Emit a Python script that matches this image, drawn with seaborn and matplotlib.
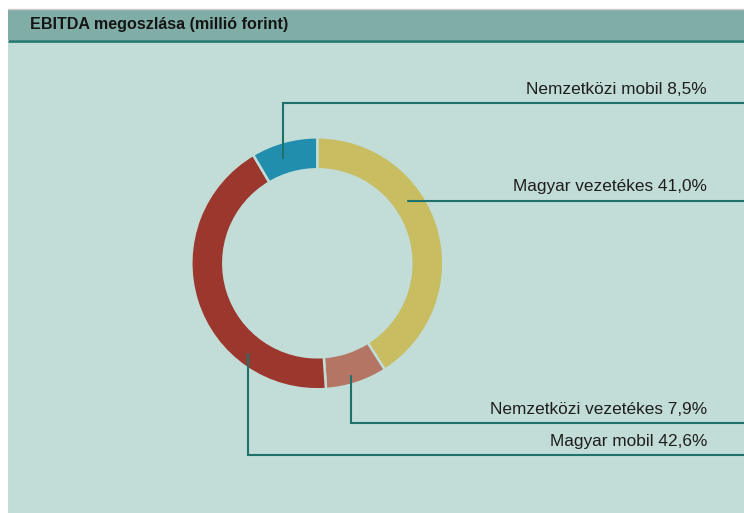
import matplotlib
matplotlib.use("Agg")
import matplotlib.pyplot as plt
import seaborn as sns
from matplotlib import font_manager
from matplotlib.patches import Rectangle

# ---- data ----
categories = ["Magyar vezetékes", "Nemzetközi vezetékes", "Magyar mobil", "Nemzetközi mobil"]
shares = [41.0, 7.9, 42.6, 8.5]
share_labels = ["41,0%", "7,9%", "42,6%", "8,5%"]
title_text = "EBITDA megoszlása (millió forint)"

colors = ["#c8bd60", "#b57565", "#9c372d", "#228eae"]
bg = "#c2dcd7"
bar = "#80aea7"
line_col = "#1f716b"

sns.set_theme(style="white")
names = {f.name for f in font_manager.fontManager.ttflist}
fam = "Liberation Sans" if "Liberation Sans" in names else "DejaVu Sans"
plt.rcParams["font.family"] = [fam, "DejaVu Sans"]

W, H = 744, 513
fig = plt.figure(figsize=(W / 100, H / 100), dpi=100)
fig.patch.set_facecolor("white")
ax = fig.add_axes([0, 0, 1, 1])

def Y(py):
    return H - py

# panel and title bar
ax.add_patch(Rectangle((8, 0), W - 8, Y(41), facecolor=bg, edgecolor="none", zorder=0))
ax.add_patch(Rectangle((8, Y(40)), W - 8, 31, facecolor=bar, edgecolor="none", zorder=0))
ax.plot([8, W], [Y(40.5), Y(40.5)], color="#2a7a74", lw=2, zorder=1, solid_capstyle="butt")
ax.plot([8, W], [Y(9), Y(9)], color="#cccccc", lw=1, zorder=1)
ax.text(30, Y(25), title_text, fontsize=11.6, fontweight="bold", color="#151515",
        va="center", ha="left")

# donut
cx, cy, R = 317.3, Y(263.3), 126
ax.pie(shares, colors=colors, startangle=90, counterclock=False,
       center=(cx, cy), radius=R,
       wedgeprops=dict(width=32, edgecolor=bg, linewidth=1.8))

# leader lines (pixel coordinates of reference)
leaders = {
    "Nemzetközi mobil": [(282.7, 158), (282.7, 103), (W, 103)],
    "Magyar vezetékes": [(407.7, 200.5), (W, 200.5)],
    "Nemzetközi vezetékes": [(351, 376), (351, 423), (W, 423)],
    "Magyar mobil": [(248, 354), (248, 455), (W, 455)],
}
for cat, lab in zip(categories, share_labels):
    pts = leaders[cat]
    xs = [p[0] for p in pts]
    ys = [Y(p[1]) for p in pts]
    ax.plot(xs, ys, color=line_col, lw=1.5, zorder=5, solid_joinstyle="miter")
    ly = pts[-1][1]
    ax.text(707, Y(ly - 9), f"{cat} {lab}", fontsize=12.4, color="#1e1e1e",
            ha="right", va="baseline", zorder=6)

ax.set_xlim(0, W)
ax.set_ylim(0, H)
ax.set_aspect("auto")
ax.axis("off")
fig.savefig("out.png", dpi=100, facecolor="white")
